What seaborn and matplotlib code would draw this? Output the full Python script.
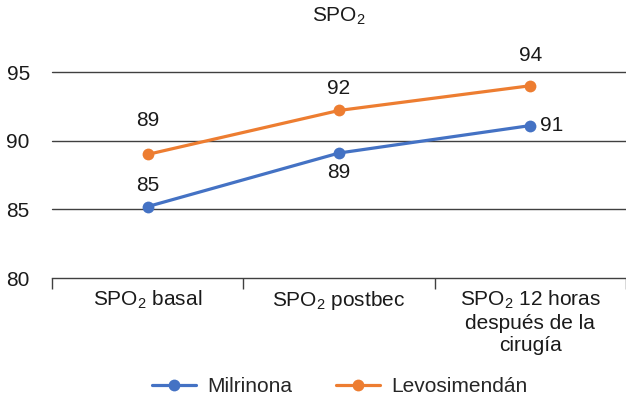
import matplotlib
matplotlib.use("Agg")
import matplotlib.pyplot as plt
import pandas as pd
import seaborn as sns

# data
categories = ["SPO$_2$ basal", "SPO$_2$ postbec", "SPO$_2$ 12 horas\ndespués de la\ncirugía"]
milrinona = [85.2, 89.1, 91.1]
levosimendan = [89.0, 92.2, 94.0]
series_names = ["Milrinona", "Levosimendán"]
y_ticks = [80, 85, 90, 95]

# label offsets in pixels (dx, dy) from each point, as in the reference
milrinona_off = [(0, 21), (0, -19), (10, 0)]
levosimendan_off = [(0, 34), (0, 22), (0, 30)]

sns.set_theme(style="white")
plt.rcParams["font.family"] = ["Liberation Sans", "DejaVu Sans"]
plt.rcParams["mathtext.fontset"] = "custom"
plt.rcParams["mathtext.rm"] = "Liberation Sans"
plt.rcParams["mathtext.it"] = "Liberation Sans:italic"
plt.rcParams["mathtext.bf"] = "Liberation Sans:bold"

FS = 15
TXT = "#1a1a1a"

df = pd.DataFrame({
    "x": list(range(len(categories))) * 2,
    "value": milrinona + levosimendan,
    "serie": [series_names[0]] * len(milrinona) + [series_names[1]] * len(levosimendan),
})

colors = {"Milrinona": "#4472C4", "Levosimendán": "#ED7D31"}

fig = plt.figure(figsize=(6.26, 3.99), dpi=100)
ax = fig.add_axes([52 / 626, 1 - 278 / 399, 1 - 52 / 626, (278 - 72) / 399])

sns.lineplot(data=df, x="x", y="value", hue="serie", palette=colors,
             marker="o", markersize=8.5, markeredgewidth=0, linewidth=2.3,
             ax=ax, legend=False)

ax.set_xlim(-0.5, len(categories) - 0.5)
ax.set_ylim(80, 95)
ax.set_yticks(y_ticks)
ax.set_yticklabels([str(t) for t in y_ticks], fontsize=FS, color=TXT)
ax.set_xticks(range(len(categories)))
ax.set_xticklabels(categories, fontsize=FS, color=TXT, linespacing=1.2)
ax.set_xticks([i - 0.5 for i in range(len(categories) + 1)], minor=True)
ax.tick_params(axis="x", which="both", bottom=True)
ax.tick_params(axis="x", which="major", length=0, pad=8)
ax.tick_params(axis="x", which="minor", length=8, width=1, color="#404040", direction="out")
ax.tick_params(axis="y", length=0, pad=16)

for y in y_ticks[1:]:
    ax.axhline(y, color="#404040", linewidth=1.0, zorder=0, clip_on=False)

for s in ["top", "right", "left"]:
    ax.spines[s].set_visible(False)
ax.spines["bottom"].set_color("#404040")
ax.spines["bottom"].set_linewidth(1.0)

ax.set_xlabel("")
ax.set_ylabel("")
ax.set_title("SPO$_2$", fontsize=FS, color=TXT, pad=36)

for vals, offs in [(milrinona, milrinona_off), (levosimendan, levosimendan_off)]:
    for i, (v, (dx, dy)) in enumerate(zip(vals, offs)):
        ax.annotate(f"{v:.0f}", (i, v), xytext=(dx, dy), textcoords="offset pixels",
                    ha="left" if dx > 0 else "center", va="center",
                    fontsize=FS, color=TXT, annotation_clip=False)

handles = [plt.Line2D([], [], color=colors[n], marker="o", markersize=8.5,
                      markeredgewidth=0, linewidth=2.3) for n in series_names]
fig.legend(handles, series_names, loc="lower center", ncol=2, frameon=False,
           fontsize=FS, handlelength=2.1, handletextpad=0.55, columnspacing=2.1,
           bbox_to_anchor=(0.543, -0.04))

fig.savefig("out.png", dpi=100)
